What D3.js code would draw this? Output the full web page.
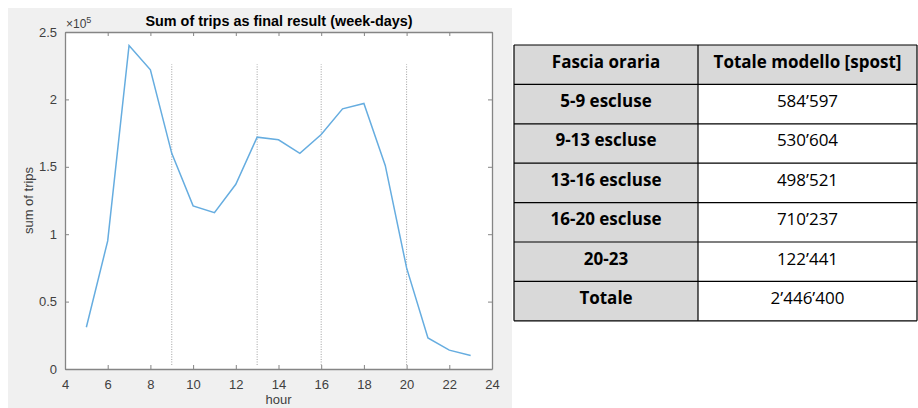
<!DOCTYPE html>
<html><head><meta charset="utf-8">
<script src="https://cdn.jsdelivr.net/npm/d3@7/dist/d3.min.js"></script>
<style>
html,body{margin:0;padding:0;background:#fff;}
svg{display:block;}
</style></head>
<body>
<svg id="c" width="918" height="408"></svg>
<script>
// ---- data ----
const hours = [5,6,7,8,9,10,11,12,13,14,15,16,17,18,19,20,21,22,23];
const trips = [31000,95000,240000,222000,160000,121000,116000,137000,172000,170000,160000,174000,193000,197000,151000,75000,23000,14000,10000];
const separators = [9,13,16,20];
const separatorTop = 226000;
const separatorBottom = 3000;
const xTicks = [4,6,8,10,12,14,16,18,20,22,24];
const yTicks = [0,50000,100000,150000,200000,250000];
const yTickLabels = ["0","0.5","1","1.5","2","2.5"];
const chartTitle = "Sum of trips as final result (week-days)";
const xLabel = "hour";
const yLabel = "sum of trips";
const tableHeader = ["Fascia oraria","Totale modello [spost]"];
const bands = ["5-9 escluse","9-13 escluse","13-16 escluse","16-20 escluse","20-23","Totale"];
const totals = ["584’597","530’604","498’521","710’237","122’441","2’446’400"];

const svg = d3.select("#c");
// figure background
svg.append("rect").attr("x",8).attr("y",8).attr("width",504).attr("height",400).attr("fill","#f0f0f0");

const L=65, R=492, T=32, B=369;
const x = d3.scaleLinear().domain([4,24]).range([L,R]);
const y = d3.scaleLinear().domain([0,250000]).range([B,T]);
const axisCol = "#858585", txtCol="#404040", font="'Liberation Sans', Arial, sans-serif";

svg.append("rect").attr("x",L).attr("y",T).attr("width",R-L).attr("height",B-T).attr("fill","#fff");

// separators
svg.append("g").selectAll("line").data(separators).join("line")
  .attr("x1",d=>x(d)).attr("x2",d=>x(d))
  .attr("y1",y(separatorBottom)).attr("y2",y(separatorTop))
  .attr("stroke","#a0a0a0").attr("stroke-width",1).attr("stroke-dasharray","1,1.5");

// line
svg.append("path").datum(hours.map((h,i)=>[h,trips[i]]))
  .attr("d",d3.line().x(d=>x(d[0])).y(d=>y(d[1])))
  .attr("fill","none").attr("stroke","#66ade0").attr("stroke-width",1.5);

// axes
const tickLen=4;
const gx = svg.append("g").attr("transform",`translate(0,${B})`)
  .call(d3.axisBottom(x).tickValues(xTicks).tickSizeInner(-tickLen).tickSizeOuter(0).tickPadding(8).tickFormat(d3.format("d")));
const gxt = svg.append("g").attr("transform",`translate(0,${T})`)
  .call(d3.axisTop(x).tickValues(xTicks).tickSizeInner(-tickLen).tickSizeOuter(0).tickFormat(""));
const gy = svg.append("g").attr("transform",`translate(${L},0)`)
  .call(d3.axisLeft(y).tickValues(yTicks).tickSizeInner(-tickLen).tickSizeOuter(0).tickPadding(8).tickFormat((d,i)=>yTickLabels[i]));
const gyr = svg.append("g").attr("transform",`translate(${R},0)`)
  .call(d3.axisRight(y).tickValues(yTicks).tickSizeInner(-tickLen).tickSizeOuter(0).tickFormat(""));
[gx,gxt,gy,gyr].forEach(g=>{
  g.selectAll("path.domain").attr("stroke",axisCol).attr("stroke-width",1.3);
  g.selectAll(".tick line").attr("stroke",axisCol);
  g.selectAll(".tick text").attr("fill",txtCol).attr("font-size",13).attr("font-family",font);
});
gx.selectAll(".tick text").attr("dy","0.9em");

// exponent
const ex = svg.append("text").attr("x",L+1).attr("y",T-4).attr("font-family",font).attr("fill",txtCol).attr("font-size",12);
ex.append("tspan").text("×10");
ex.append("tspan").attr("font-size",9).attr("dy",-5).text("5");

// title
svg.append("text").attr("x",279).attr("y",T-6).attr("text-anchor","middle")
  .attr("font-family",font).attr("font-weight","bold").attr("font-size",14.4).attr("fill","#000").text(chartTitle);
// labels
svg.append("text").attr("x",(L+R)/2).attr("y",404).attr("text-anchor","middle")
  .attr("font-family",font).attr("font-size",13).attr("fill",txtCol).text(xLabel);
svg.append("text").attr("transform",`translate(33,${(T+B)/2}) rotate(-90)`).attr("text-anchor","middle")
  .attr("font-family",font).attr("font-size",13).attr("fill",txtCol).text(yLabel);

// table
const tL=514, tM=698, tR=917, tT=45, rowH=39.4;
const tFont = "'Open Sans', sans-serif", tSize = 17;
const rows = [[tableHeader[0],tableHeader[1],true]].concat(bands.map((b,i)=>[b,totals[i],false]));
const tg = svg.append("g");
rows.forEach((r,i)=>{
  const yy = tT + i*rowH;
  tg.append("rect").attr("x",tL).attr("y",yy).attr("width",tM-tL).attr("height",rowH).attr("fill","#d9d9d9");
  tg.append("rect").attr("x",tM).attr("y",yy).attr("width",tR-tM).attr("height",rowH).attr("fill",r[2]?"#d9d9d9":"#fff");
  tg.append("text").attr("x",(tL+tM)/2).attr("y",yy+22.5).attr("text-anchor","middle")
    .attr("font-family",tFont).attr("font-weight","bold").attr("font-size",tSize).attr("fill","#000").text(r[0]);
  tg.append("text").attr("x",(tM+tR)/2).attr("y",yy+22.5).attr("text-anchor","middle")
    .attr("font-family",tFont).attr("font-weight",r[2]?"bold":"normal").attr("font-size",tSize).attr("fill","#000").text(r[1]);
});
const nR = rows.length;
for(let i=0;i<=nR;i++){
  tg.append("line").attr("x1",tL).attr("x2",tR).attr("y1",tT+i*rowH).attr("y2",tT+i*rowH).attr("stroke","#000").attr("stroke-width",1.2);
}
[tL,tM,tR].forEach(xx=>tg.append("line").attr("x1",xx).attr("x2",xx).attr("y1",tT).attr("y2",tT+nR*rowH).attr("stroke","#000").attr("stroke-width",1.2));
</script>
</body></html>
